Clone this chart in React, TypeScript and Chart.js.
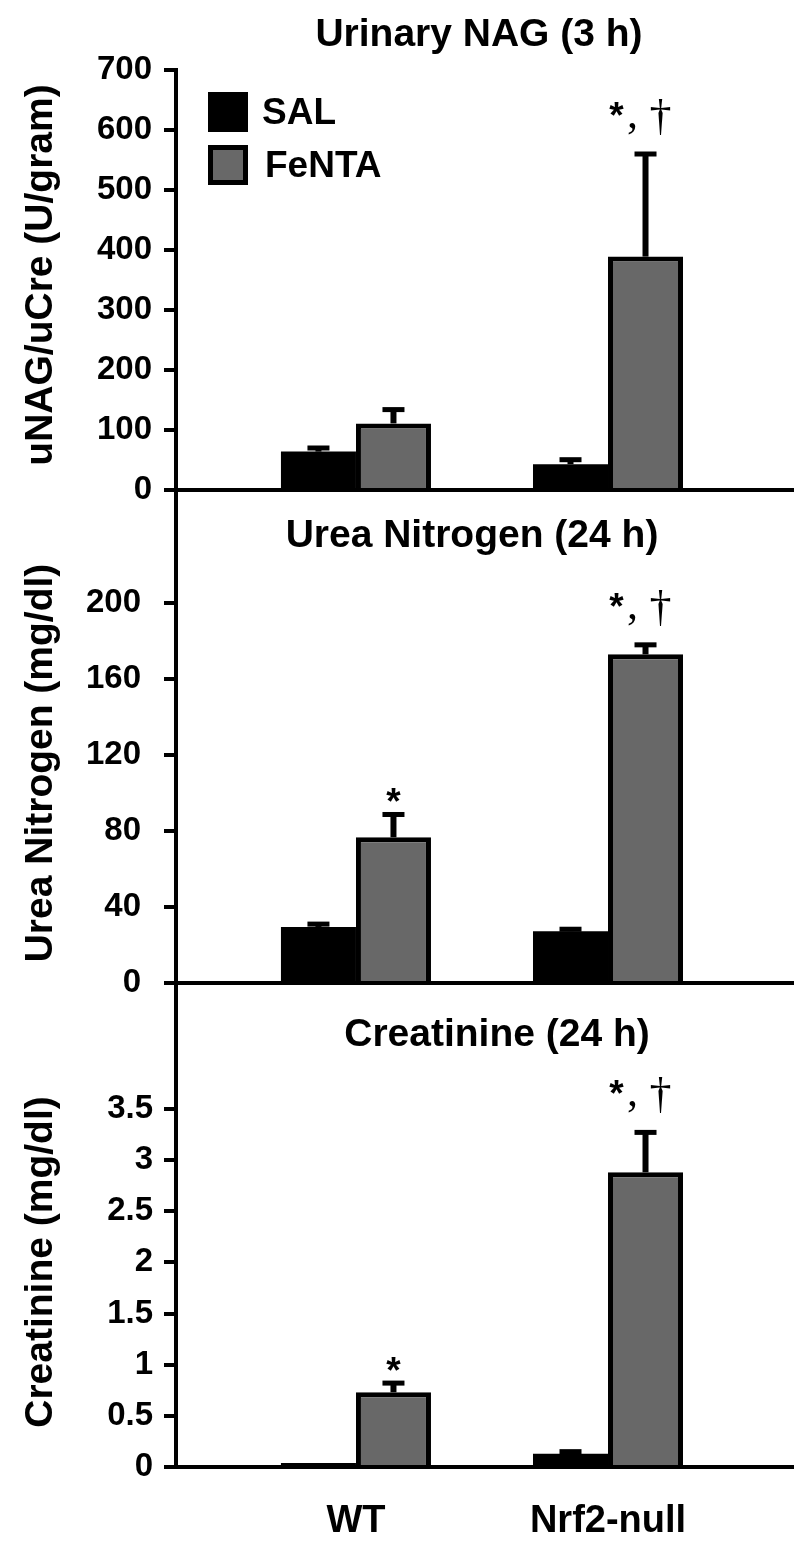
import React, { useEffect, useRef } from 'react';
import { Chart, registerables } from 'chart.js';

Chart.register(...registerables);

// ---------- data ----------
const categories = ['WT', 'Nrf2-null'];
const seriesNames = ['SAL', 'FeNTA'];

// Urinary NAG (3 h), U/gram
const nagSAL = [64, 43];
const nagSALErr = [6, 7.5];
const nagFeNTA = [111, 389];
const nagFeNTAErr = [23, 171];
const nagMarks = ['', '*,†'];
const nagTicks = [0, 100, 200, 300, 400, 500, 600, 700];

// Urea Nitrogen (24 h), mg/dl
const bunSAL = [29.5, 27.3];
const bunSALErr = [1.5, 1];
const bunFeNTA = [76.7, 173];
const bunFeNTAErr = [12, 5];
const bunMarks = ['*', '*,†'];
const bunTicks = [0, 40, 80, 120, 160, 200];

// Creatinine (24 h), mg/dl
const creSAL = [0.04, 0.13];
const creSALErr = [0, 0.02];
const creFeNTA = [0.73, 2.88];
const creFeNTAErr = [0.09, 0.39];
const creMarks = ['*', '*,†'];
const creTicks = [0, 0.5, 1, 1.5, 2, 2.5, 3, 3.5];

// ---------- style ----------
const SANS = '"Liberation Sans", Arial, Helvetica, sans-serif';
const SERIF = '"Liberation Serif", "Times New Roman", serif';
const GRAY = '#686868';
const BLACK = '#000000';

const panels = [
  {
    top: 0, height: 500, padTop: 70, xHeight: 10, yMax: 700, yTicks: nagTicks, tickPad: 12,
    sal: nagSAL, salErr: nagSALErr, fen: nagFeNTA, fenErr: nagFeNTAErr, marks: nagMarks,
    title: 'Urinary NAG (3 h)', titleX: 479, titleY: 46,
    yTitle: 'uNAG/uCre (U/gram)', yTitleY: 275, showX: false, legend: true,
  },
  {
    top: 450, height: 550, padTop: 40, xHeight: 17, yMax: 259.5, yTicks: bunTicks, tickPad: 23,
    sal: bunSAL, salErr: bunSALErr, fen: bunFeNTA, fenErr: bunFeNTAErr, marks: bunMarks,
    title: 'Urea Nitrogen (24 h)', titleX: 472, titleY: 547,
    yTitle: 'Urea Nitrogen (mg/dl)', yTitleY: 763, showX: false, legend: false,
  },
  {
    top: 940, height: 610, padTop: 43, xHeight: 83, yMax: 4.73, yTicks: creTicks, tickPad: 11,
    sal: creSAL, salErr: creSALErr, fen: creFeNTA, fenErr: creFeNTAErr, marks: creMarks,
    title: 'Creatinine (24 h)', titleX: 497, titleY: 1046,
    yTitle: 'Creatinine (mg/dl)', yTitleY: 1262, showX: true, legend: false,
  },
];

function makeOverlay(cfg: any) {
  return {
    id: 'overlay',
    afterDatasetsDraw(chart: any) {
      const ctx = chart.ctx;
      const y = chart.scales.y;
      ctx.save();
      ctx.fillStyle = BLACK;
      // error bars (upper only)
      [[cfg.sal, cfg.salErr], [cfg.fen, cfg.fenErr]].forEach(([vals, errs]: any, di: number) => {
        const meta = chart.getDatasetMeta(di);
        meta.data.forEach((bar: any, i: number) => {
          const e = errs[i];
          if (!e) return;
          const yTop = y.getPixelForValue(vals[i]);
          const yE = y.getPixelForValue(vals[i] + e);
          ctx.fillRect(bar.x - 3, yE, 6, yTop - yE);
          ctx.fillRect(bar.x - 11, yE - 2.5, 22, 5);
        });
      });
      // significance marks above FeNTA bars
      const fmeta = chart.getDatasetMeta(1);
      cfg.marks.forEach((m: string, i: number) => {
        if (!m) return;
        const bar = fmeta.data[i];
        const cx = bar.x;
        const capY = y.getPixelForValue(cfg.fen[i] + cfg.fenErr[i]);
        ctx.textAlign = 'center';
        ctx.textBaseline = 'alphabetic';
        if (m === '*') {
          ctx.font = `bold 37px ${SANS}`;
          ctx.fillText('*', cx, capY);
        } else {
          const base = capY - 26;
          ctx.font = `bold 37px ${SANS}`;
          ctx.fillText('*', cx - 29, base);
          ctx.font = `44px ${SERIF}`;
          ctx.fillText(',', cx - 13, base);
          ctx.fillText('†', cx + 15, base + 2);
        }
      });
      ctx.restore();
    },
    afterDraw(chart: any) {
      const ctx = chart.ctx;
      const off = cfg.top;
      ctx.save();
      ctx.fillStyle = BLACK;
      // panel title
      ctx.font = `bold 39px ${SANS}`;
      ctx.textAlign = 'center';
      ctx.textBaseline = 'alphabetic';
      ctx.fillText(cfg.title, cfg.titleX, cfg.titleY - off);
      // y-axis title
      ctx.save();
      ctx.translate(52, cfg.yTitleY - off);
      ctx.rotate(-Math.PI / 2);
      ctx.font = `bold 39px ${SANS}`;
      ctx.textAlign = 'center';
      ctx.fillText(cfg.yTitle, 0, 0);
      ctx.restore();
      // legend
      if (cfg.legend) {
        ctx.fillStyle = BLACK;
        ctx.fillRect(208, 92 - off, 40, 40);
        ctx.fillRect(208, 145 - off, 40, 40);
        ctx.fillStyle = GRAY;
        ctx.fillRect(213, 150 - off, 30, 30);
        ctx.fillStyle = BLACK;
        ctx.font = `bold 37px ${SANS}`;
        ctx.textAlign = 'left';
        ctx.fillText(seriesNames[0], 262, 124 - off);
        ctx.fillText(seriesNames[1], 265, 177 - off);
      }
      ctx.restore();
    },
  };
}

function Panel({ cfg }: { cfg: any }) {
  const ref = useRef<HTMLCanvasElement>(null);
  useEffect(() => {
    const canvas = ref.current as HTMLCanvasElement;
    const tickFont = { family: SANS, size: 33, weight: 'bold' as const };
    const chart = new Chart(canvas, {
      type: 'bar',
      data: {
        datasets: [
          {
            label: seriesNames[0],
            data: cfg.sal.map((v: number, i: number) => ({ x: i + 1, y: v })),
            backgroundColor: BLACK,
            borderColor: BLACK,
            borderWidth: 0,
          },
          {
            label: seriesNames[1],
            data: cfg.fen.map((v: number, i: number) => ({ x: i + 1, y: v })),
            backgroundColor: GRAY,
            borderColor: BLACK,
            borderWidth: 5,
          },
        ],
      },
      options: {
        animation: false,
        responsive: false,
        maintainAspectRatio: false,
        devicePixelRatio: 1,
        layout: { padding: { top: cfg.padTop, left: 0, right: 8, bottom: 0 } },
        datasets: { bar: { categoryPercentage: 150 / 252, barPercentage: 1 } },
        plugins: {
          legend: { display: false },
          tooltip: { enabled: false },
          title: { display: false },
        },
        scales: {
          x: {
            type: 'linear',
            min: 0.286,
            max: 2.73,
            offset: false,
            afterBuildTicks: (s: any) => {
              s.ticks = categories.map((_, i) => ({ value: i + 1 }));
            },
            afterFit: (s: any) => {
              s.height = cfg.xHeight;
              s.paddingLeft = 0;
              s.paddingRight = 0;
            },
            ticks: {
              display: cfg.showX,
              autoSkip: false,
              maxRotation: 0,
              padding: 32,
              color: BLACK,
              font: { family: SANS, size: 38, weight: 'bold' },
              callback: (v: any) => categories[Math.round(Number(v)) - 1] ?? '',
            },
            grid: { display: true, offset: false, drawOnChartArea: false, drawTicks: false, color: BLACK, lineWidth: 4 },
            border: { display: true, color: BLACK, width: 4 },
          },
          y: {
            type: 'linear',
            min: 0,
            max: cfg.yMax,
            afterBuildTicks: (s: any) => {
              s.ticks = cfg.yTicks.map((v: number) => ({ value: v }));
            },
            afterFit: (s: any) => {
              s.width = 176;
              s.paddingTop = 0;
              s.paddingBottom = 0;
            },
            ticks: {
              autoSkip: false,
              padding: cfg.tickPad,
              color: BLACK,
              font: tickFont,
              callback: (v: any) => String(v),
            },
            grid: { display: true, drawOnChartArea: false, drawTicks: true, tickLength: 12, lineWidth: 4, color: BLACK },
            border: { display: true, color: BLACK, width: 4 },
          },
        },
      } as any,
      plugins: [makeOverlay(cfg)],
    });
    return () => chart.destroy();
  }, [cfg]);
  return (
    <canvas
      ref={ref}
      width={800}
      height={cfg.height}
      style={{ position: 'absolute', left: 0, top: cfg.top, width: 800, height: cfg.height }}
    />
  );
}

export default function App() {
  return (
    <div style={{ position: 'absolute', left: 0, top: 0, width: 800, height: 1550, background: '#ffffff' }}>
      {panels.map((p, i) => (
        <Panel key={i} cfg={p} />
      ))}
    </div>
  );
}
